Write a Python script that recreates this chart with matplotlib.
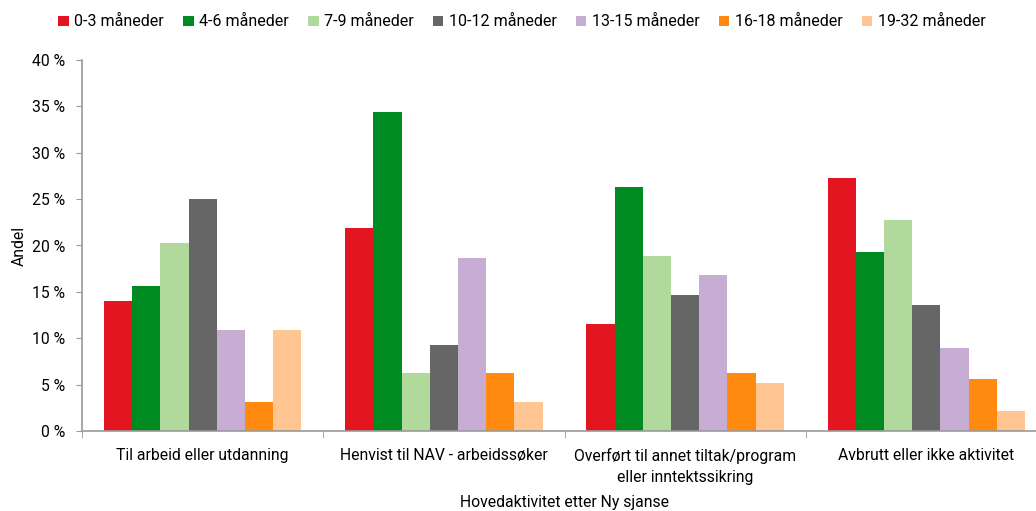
import numpy as np
import matplotlib
matplotlib.use("Agg")
from matplotlib import pyplot as plt

plt.rcParams['font.family'] = ['Roboto', 'DejaVu Sans']
plt.rcParams['font.size'] = 11.3

categories = ['Til arbeid eller utdanning', 'Henvist til NAV - arbeidssøker',
              'Overført til annet tiltak/program\neller inntektssikring',
              'Avbrutt eller ikke aktivitet']
series = ['0-3 måneder', '4-6 måneder', '7-9 måneder', '10-12 måneder',
          '13-15 måneder', '16-18 måneder', '19-32 måneder']
colors = ['#E31520', '#008A22', '#B1D99B', '#666666', '#C7ADD3', '#FF8A0F', '#FFC592']

# andel i prosent, en liste per serie (fire kategorier)
v_0_3 = [14.0, 21.9, 11.5, 27.3]
v_4_6 = [15.6, 34.4, 26.3, 19.3]
v_7_9 = [20.3, 6.2, 18.9, 22.7]
v_10_12 = [25.0, 9.3, 14.7, 13.6]
v_13_15 = [10.9, 18.7, 16.8, 9.0]
v_16_18 = [3.1, 6.2, 6.3, 5.6]
v_19_32 = [10.9, 3.1, 5.2, 2.2]
values = [v_0_3, v_4_6, v_7_9, v_10_12, v_13_15, v_16_18, v_19_32]

fig = plt.figure(figsize=(10.36, 5.11), dpi=100)
ax = fig.add_axes([82/1036, (511-431)/511, (1047-82)/1036, 371/511])

n = len(series)
w = 0.117
x = np.arange(len(categories))
for i, (name, vals) in enumerate(zip(series, values)):
    ax.bar(x + (i - (n - 1) / 2) * w, vals, w, color=colors[i], label=name)

ax.set_xlim(-0.5, len(categories) - 0.5)
ax.set_ylim(0, 40)
ax.set_yticks(range(0, 41, 5))
ax.set_yticklabels([f'{t} %' for t in range(0, 41, 5)])
ax.set_xticks(x)
ax.set_xticklabels(categories, linespacing=1.55)
ax.set_xticks(np.arange(-0.5, len(categories), 1), minor=True)
ax.tick_params(axis='x', which='major', length=0, pad=12)
ax.tick_params(axis='x', which='minor', length=5, color='#999999')
ax.tick_params(axis='y', length=4, color='#999999', pad=8)

for s in ['top', 'right']:
    ax.spines[s].set_visible(False)
for s in ['left', 'bottom']:
    ax.spines[s].set_color('#999999')
    ax.spines[s].set_linewidth(1.2)

ax.set_ylabel('Andel', labelpad=4)
ax.set_xlabel('Hovedaktivitet etter Ny sjanse')
ax.xaxis.set_label_coords(0.5, -(495 - 431) / 371)

fig.legend(loc='center', bbox_to_anchor=(522/1036, 1 - 22/511), ncol=7,
           frameon=False, handlelength=0.65, handleheight=0.65, handletextpad=0.35,
           columnspacing=1.2, fontsize=11.5)

fig.savefig('out.png', dpi=100)
